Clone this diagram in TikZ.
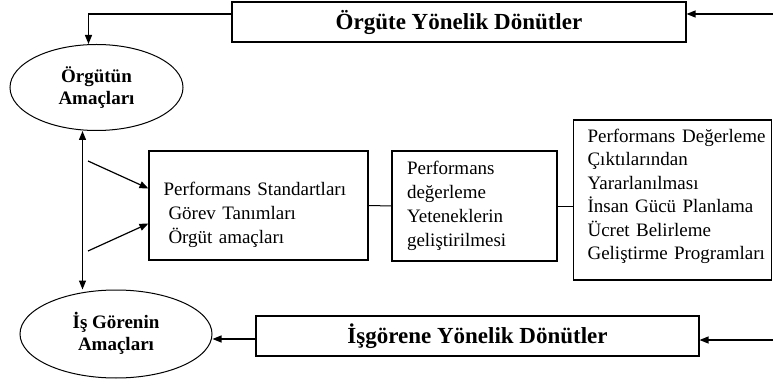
\documentclass[tikz,border=0pt]{standalone}
\usepackage{fontspec}
\setmainfont{Liberation Serif}
\usetikzlibrary{positioning, arrows.meta, shapes.geometric}

\begin{document}
\begin{tikzpicture}[x=1pt, y=-1pt,
    box/.style={draw, line width=1.1pt, rectangle, inner sep=0pt},
    fbbox/.style={box, minimum height=40pt, font=\fontsize{23}{26}\selectfont\bfseries},
    listbox/.style={box, align=left, font=\fontsize{19}{24}\selectfont},
    goal/.style={draw, line width=1pt, ellipse, inner sep=0pt, align=center,
        font=\fontsize{19}{22}\selectfont\bfseries},
    arr/.style={line width=1.2pt, -{Triangle[length=9pt, width=7pt]}}]
    \useasboundingbox (0,0) rectangle (773,387);

    % hedefler
    \node [goal, minimum width=173pt, minimum height=86pt] (orgut) at (96.5,87.5) {Örgütün\\Amaçları};
    \node [goal, minimum width=192pt, minimum height=88pt] (isgoren) at (116,334) {İş Görenin\\Amaçları\rule[-6pt]{0pt}{6pt}};

    % dönüt kutuları
    \node [fbbox, minimum width=454pt] (orgfb) at (459,22) {Örgüte Yönelik Dönütler};
    \node [fbbox, minimum width=443pt] (isfb) at (477.5,336) {İşgörene Yönelik Dönütler};

    % ortadaki kutular
    \node [listbox, minimum width=219pt, minimum height=109pt, text width=190pt] (std) at (258.5,205.5)
        {\rule{0pt}{33pt}Performans Standartları\\\hspace{5pt}Görev Tanımları\\\hspace{5pt}Örgüt amaçları};
    \node [listbox, minimum width=165pt, minimum height=110pt, text width=135pt] (deg) at (474.5,206)
        {Performans\\değerleme\\Yeteneklerin\\geliştirilmesi};
    \node [listbox, anchor=west, inner xsep=14pt, minimum height=160pt, text width=170pt,
        font=\fontsize{19}{23.5}\selectfont] (cikti) at (573,200)
        {\mbox{Performans\hspace{7pt}Değerleme}\\Çıktılarından\\Yararlanılması\\\mbox{İnsan Gücü Planlama}\\\mbox{Ücret Belirleme}\\\mbox{Geliştirme Programları}\rule[-11pt]{0pt}{11pt}};

    \coordinate (inTop) at (773,14);
    \coordinate (inBot) at (773,340);
    \coordinate (s1) at (88,161);
    \coordinate (s2) at (88,251);

    \draw [arr] (inTop) -- (inTop -| orgfb.east);
    \draw [arr] (orgfb.west |- inTop) -| ([xshift=-8pt]orgut.north);
    \draw [arr] (inBot) -- (inBot -| isfb.east);
    \draw [arr] ([yshift=-3pt]isfb.west) -- ([yshift=-3pt]isfb.west -| isgoren.east);

    \draw [line width=1.2pt, {Triangle[length=9pt, width=7pt]}-{Triangle[length=9pt, width=7pt]}]
        ([xshift=-14pt]orgut.south) -- ([xshift=-14pt]orgut.south |- isgoren.north);

    \draw [arr] (s1) -- ([yshift=17pt]std.west);
    \draw [arr] (s2) -- ([yshift=-18pt]std.west);

    \draw [line width=1pt] (std.east) -- (deg.west);
    \draw [line width=1pt] ([yshift=-1pt]deg.east) -- ([yshift=-1pt]deg.east -| cikti.west);
\end{tikzpicture}
\end{document}
